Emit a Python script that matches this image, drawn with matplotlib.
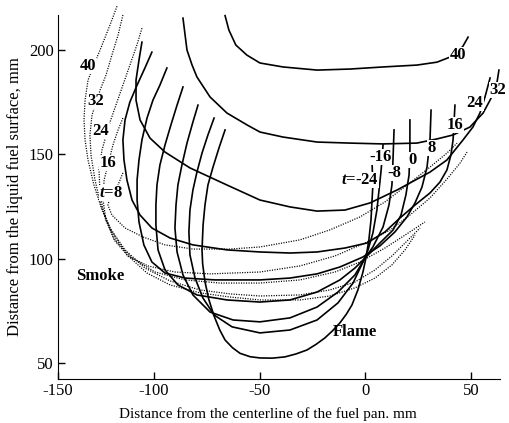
import numpy as np
import matplotlib
matplotlib.use("Agg")
import matplotlib.pyplot as plt

plt.rcParams['font.family'] = ['Liberation Serif', 'DejaVu Serif']
plt.rcParams['mathtext.fontset'] = 'custom'
plt.rcParams['mathtext.it'] = 'Liberation Serif:italic:bold'
plt.rcParams['mathtext.rm'] = 'Liberation Serif:bold'

# FLAME CONTOURS (solid), x = distance from centerline (mm), y = height (mm)
flame_t = ['40', '32', '24', '16', '8', '0', '-8', '-16', '$t$=-24']

f40_x = [-66.3, -64.5, -61.2, -56.0, -49.8, -38.9, -22.8, -7.2, 8.4, 24.4, 33.9, 40.0, 43.8, 46.2, 48.6]
f40_y = [216.5, 209.6, 202.4, 197.6, 193.8, 191.9, 190.4, 190.9, 191.9, 192.8, 194.2, 196.6, 199.0, 201.9, 206.2]

f32_x = [-86.2, -85.2, -84.3, -81.9, -79.6, -73.4, -65.4, -55.9, -49.8, -38.9, -22.8, -7.2, 8.4, 24.4,
         33.9, 41.5, 49.5, 55.7, 59.0, 60.9, 62.3, 63.2]
f32_y = [215.3, 207.2, 200.0, 192.8, 187.1, 177.5, 169.8, 164.1, 160.7, 158.3, 155.9, 155.4, 155.0, 155.4,
         157.4, 159.3, 163.1, 169.8, 176.0, 179.9, 184.7, 190.4]

f24_x = [-105.6, -107.0, -108.4, -108.4, -106.5, -101.8, -94.7, -82.9, -65.4, -49.8, -35.6, -22.8, -9.6,
         2.2, 15.0, 30.6, 38.6, 46.2, 50.9, 54.2, 56.6, 59.0]
f24_y = [203.8, 195.2, 185.6, 176.0, 166.5, 157.8, 151.1, 143.5, 135.3, 128.1, 124.8, 122.8, 123.3,
         126.7, 132.9, 141.5, 147.3, 156.9, 163.1, 169.8, 177.5, 186.6]

f16_x = [-100.9, -104.2, -107.9, -111.3, -113.6, -114.6, -114.1, -112.7, -110.3, -106.5, -100.9, -92.3,
         -81.5, -65.4, -49.8, -35.6, -22.8, -9.6, 0.8, 9.3, 16.4, 23.5, 30.6, 35.3, 38.6, 40.5, 41.5, 41.9, 42.4]
f16_y = [199.0, 191.4, 183.2, 175.1, 166.5, 156.9, 147.3, 137.7, 128.1, 120.9, 114.7, 109.9,
         106.6, 104.2, 103.2, 102.7, 103.2, 105.1, 107.5, 112.8, 119.5, 125.7, 131.5, 136.7, 142.5, 149.7,
         156.9, 164.1, 173.6]

f8_x = [-93.8, -97.1, -100.4, -103.2, -105.6, -107.0, -107.9, -107.9, -107.0, -104.7, -100.9, -94.7,
        -85.2, -71.0, -49.8, -35.6, -22.8, -12.0, -1.1, 6.9, 14.0, 19.7, 23.5, 26.8, 29.2, 30.6, 31.1]
f8_y = [191.4, 183.2, 176.0, 167.4, 156.9, 147.3, 137.7, 128.1, 117.6, 106.6, 98.4, 93.1,
        90.7, 89.8, 89.8, 90.7, 92.7, 96.0, 100.8, 106.1, 112.8, 120.0, 126.7, 134.3, 143.9, 156.9, 171.2]

f0_x = [-86.2, -89.0, -91.9, -94.7, -97.1, -98.5, -99.0, -99.0, -98.0, -94.7, -88.6, -79.6, -65.4,
        -49.8, -35.6, -22.8, -12.0, -4.9, -0.1, 6.9, 13.1, 16.9, 19.2, 20.7, 21.1, 21.1]
f0_y = [182.3, 173.6, 164.1, 154.5, 144.9, 135.3, 125.7, 116.1, 104.2, 94.6, 87.4, 82.6, 80.2,
        79.2, 80.2, 84.0, 89.8, 95.5, 100.3, 107.5, 113.7, 120.9, 130.5, 140.1, 152.1, 166.5]

fm8_x = [-79.1, -81.5, -84.3, -86.7, -88.6, -89.5, -90.0, -89.0, -86.2, -81.5, -73.4, -62.5, -49.8,
         -35.6, -22.8, -12.9, -4.9, -0.1, 3.6, 8.4, 11.2, 12.6, 13.1, 13.6]
fm8_y = [173.6, 165.5, 155.4, 144.9, 135.3, 125.7, 114.7, 103.2, 92.2, 82.6, 74.4, 70.6, 69.7,
         71.6, 76.8, 84.0, 92.2, 100.3, 105.6, 115.2, 125.7, 135.3, 147.3, 161.7]

fm16_x = [-71.5, -74.4, -77.2, -79.6, -81.5, -82.9, -83.4, -82.9, -80.5, -76.8, -71.5, -63.0, -49.8,
          -35.6, -22.8, -12.9, -5.8, -1.1, 1.3, 3.6, 5.5, 6.5, 7.4, 7.9, 8.4]
fm16_y = [167.4, 159.3, 150.6, 141.5, 132.9, 123.3, 112.8, 101.8, 90.7, 81.2, 73.0, 67.3, 64.4,
          65.8, 70.6, 78.8, 88.3, 98.4, 104.2, 112.3, 123.3, 132.9, 141.5, 147.3, 154.5]

fm24_x = [-66.3, -69.2, -72.0, -74.4, -75.8, -76.7, -77.2, -76.9, -75.8, -74.0, -71.5, -68.8, -66.3,
          -62.8, -59.2, -54.5, -49.8, -44.0, -38.0, -32.8, -27.6, -23.3, -19.1, -15.5, -12.0, -9.0,
          -6.3, -3.5, -1.1, 0.3, 1.7, 2.7, 3.2, 3.6, 3.2]
fm24_y = [161.7, 153.0, 143.9, 135.3, 125.7, 116.1, 104.2, 97.5, 89.0, 80.5, 72.5, 65.8, 61.0,
          57.3, 54.6, 53.0, 52.4, 52.3, 52.9, 54.3, 56.2, 58.9, 62.0, 65.4, 69.2, 73.3,
          77.8, 85.0, 93.6, 100.3, 109.0, 118.5, 128.1, 135.3, 145.8]

flame_x = [f40_x, f32_x, f24_x, f16_x, f8_x, f0_x, fm8_x, fm16_x, fm24_x]
flame_y = [f40_y, f32_y, f24_y, f16_y, f8_y, f0_y, fm8_y, fm16_y, fm24_y]
flame_lab_x = [43.8, 62.7, 51.9, 42.4, 31.5, 22.5, 13.6, 7.4, -2.5]
flame_lab_y = [197.6, 180.8, 174.6, 164.1, 153.0, 147.3, 141.1, 148.7, 137.7]

# SMOKE CONTOURS (dotted)
smoke_t = ['40', '32', '24', '16', '$t$=8']

s40_x = [-117.4, -119.8, -122.6, -125.4, -127.8, -131.1, -132.5, -133.0, -132.5, -131.1, -128.3, -124.5,
         -119.8, -112.7, -103.2, -92.3, -78.2, -64.0, -49.8, -30.9, -16.7, -4.9, 4.6, 12.6, 18.8, 23.5]
s40_y = [221.0, 214.4, 207.2, 200.0, 194.2, 185.6, 176.0, 166.5, 156.9, 147.3, 135.3, 123.3,
         112.8, 101.8, 93.1, 87.4, 83.6, 81.6, 80.2, 80.2, 82.1, 86.0, 90.7, 97.0, 104.2, 111.3]

s32_x = [-114.6, -116.9, -119.8, -122.6, -125.4, -129.2, -130.2, -129.7, -127.8, -125.0, -120.7, -113.6,
         -104.2, -92.3, -78.2, -64.0, -49.8, -30.9, -16.7, -4.9, 4.6, 12.6, 18.8, 25.9]
s32_y = [216.8, 207.2, 197.6, 188.0, 180.8, 168.9, 159.3, 149.7, 137.7, 125.7, 114.7, 104.2,
         95.5, 89.3, 85.0, 83.1, 82.1, 82.6, 85.0, 88.8, 94.6, 101.3, 107.5, 114.7]

s24_x = [-105.6, -108.0, -111.3, -114.6, -117.9, -120.7, -124.5, -125.9, -125.4, -123.1, -118.3, -110.3,
         -99.4, -85.2, -68.7, -49.8, -30.9, -14.3, -2.5, 9.3, 18.8, 28.2]
s24_y = [210.5, 202.4, 192.8, 183.2, 173.6, 165.5, 152.1, 142.5, 130.5, 119.5, 109.0, 100.3,
         93.6, 89.8, 88.3, 88.3, 89.8, 93.6, 98.4, 105.1, 111.3, 117.6]

s16_x = [-114.6, -116.9, -119.3, -123.5, -124.0, -122.6, -118.8, -112.2, -102.7, -90.0, -73.4, -49.8,
         -30.9, -14.3, -0.1, 11.7, 21.1, 30.6, 39.1, 44.8, 48.1]
s16_y = [167.4, 161.7, 154.5, 137.7, 128.1, 118.5, 109.0, 101.3, 96.5, 93.6, 92.7, 93.6,
         96.5, 101.3, 107.5, 113.7, 120.9, 129.1, 138.7, 145.8, 151.1]

s8_x = [-114.6, -116.9, -120.7, -121.7, -119.8, -113.6, -105.1, -94.7, -81.5, -64.0, -49.8, -30.9,
        -16.7, -2.5, 9.3, 21.1, 30.6, 38.6, 43.4]
s8_y = [141.1, 135.3, 129.1, 125.7, 120.9, 114.7, 110.4, 106.6, 104.6, 104.6, 105.6, 109.0,
        113.8, 120.0, 127.2, 136.3, 143.9, 150.6, 155.4]

smoke_x = [s40_x, s32_x, s24_x, s16_x, s8_x]
smoke_y = [s40_y, s32_y, s24_y, s16_y, s8_y]
smoke_lab_x = [-131.1, -127.3, -125.0, -121.7, -120.2]
smoke_lab_y = [192.3, 175.6, 161.2, 145.9, 131.5]

# FIGURE
fig = plt.figure(figsize=(5.10, 4.23), dpi=100)
ax = fig.add_axes([0.1137, 0.104, 0.8667, 0.8605])

for xs, ys in zip(smoke_x, smoke_y):
    ax.plot(xs, ys, color='black', lw=0.9, ls=(0, (0.9, 1.1)), clip_on=False)
for xs, ys in zip(flame_x, flame_y):
    ax.plot(xs, ys, color='black', lw=1.2, clip_on=False, solid_joinstyle='round')

box = dict(facecolor='white', edgecolor='none', pad=0.2)
for lab, lx, ly in zip(flame_t, flame_lab_x, flame_lab_y):
    ax.text(lx, ly, lab, fontsize=12, fontweight='bold', ha='center', va='center', bbox=box)
for lab, lx, ly in zip(smoke_t, smoke_lab_x, smoke_lab_y):
    ax.text(lx, ly, lab, fontsize=12, fontweight='bold', ha='center', va='center', bbox=box)

ax.text(-125.4, 91.7, 'Smoke', fontsize=12, fontweight='bold', ha='center', va='center')
ax.text(-4.9, 64.9, 'Flame', fontsize=12, fontweight='bold', ha='center', va='center')

ax.set_xlim(-145.3, 63.7)
ax.set_ylim(42.3, 216.8)
ax.set_xticks([-145.3, -100, -50, 0, 50])
ax.set_xticklabels(['-150', '-100', '-50', '0', '50'])
ax.set_yticks([50, 100, 150, 200])
ax.tick_params(direction='in', length=5, width=1, labelsize=12, pad=3)
ax.spines['top'].set_visible(False)
ax.spines['right'].set_visible(False)

ax.set_xlabel("Distance from the centerline of the fuel pan. mm", fontsize=11, labelpad=2)
ax.xaxis.set_label_coords(0.475, -0.078)
ax.set_ylabel("Distance from the liquid fuel surface, mm", fontsize=12, labelpad=4)

fig.savefig("out.png", dpi=100)
